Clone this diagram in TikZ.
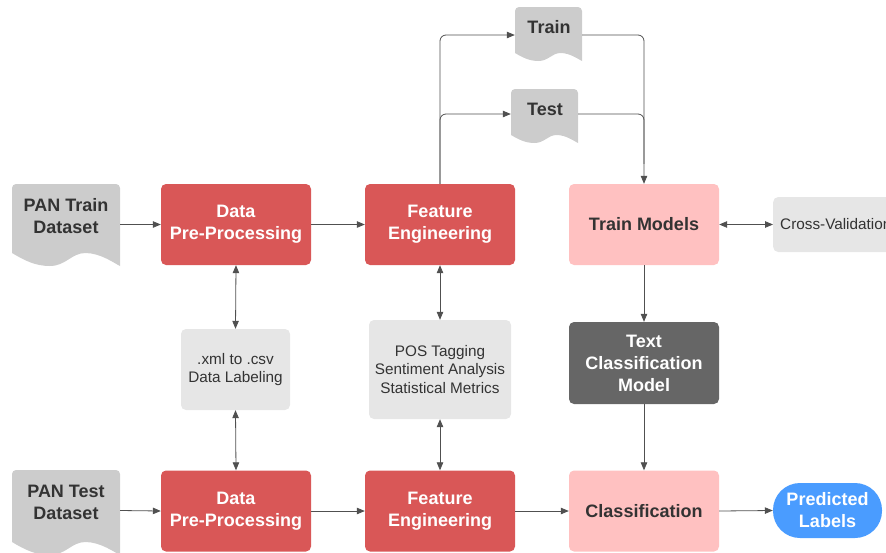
\documentclass[tikz,border=0pt]{standalone}
\usepackage{fontspec}
\setmainfont{Liberation Sans}
\usetikzlibrary{arrows.meta}
\definecolor{redbox}{HTML}{D95757}
\definecolor{pinkbox}{HTML}{FFC1C1}
\definecolor{docgray}{HTML}{CCCCCC}
\definecolor{lightbox}{HTML}{E6E6E6}
\definecolor{darkbox}{HTML}{666666}
\definecolor{bluebox}{HTML}{4A9CFF}
\definecolor{txt}{HTML}{333333}
\definecolor{linec}{HTML}{505050}
\newcommand{\docshape}[5]{%
  \pgfmathsetmacro\dw{#3-#1}%
  \fill[docgray] (#1,{#4-#5}) [rounded corners=4pt] -- (#1,#2) -- (#3,#2) [sharp corners] -- (#3,#4)
    .. controls ({#3-0.05*\dw},{#4-0.2*#5}) and ({#1+0.82*\dw},{#4-#5}) .. ({#1+0.68*\dw},{#4-#5})
    .. controls ({#1+0.55*\dw},{#4-#5}) and ({#1+0.5*\dw},#4) .. ({#1+0.35*\dw},#4)
    .. controls ({#1+0.22*\dw},#4) and ({#1+0.12*\dw},{#4-0.4*#5}) .. (#1,{#4-#5}) -- cycle;}
\begin{document}
\begin{tikzpicture}[x=1pt,y=-1pt,
  box/.style={rectangle, rounded corners=5pt, minimum width=150, minimum height=81, inner sep=0, align=center, font=\bfseries\fontsize{18}{22}\selectfont},
  redb/.style={box, fill=redbox, text=white},
  pinkb/.style={box, fill=pinkbox, text=txt},
  darkb/.style={box, fill=darkbox, text=white},
  grayb/.style={rectangle, rounded corners=5pt, fill=lightbox, text=txt, inner sep=0, align=center, font=\fontsize{15.3}{18.5}\selectfont},
  frame/.style={rectangle, inner sep=0},
  doctext/.style={align=center, text=txt, inner sep=0, font=\bfseries\fontsize{18}{22}\selectfont},
  arr/.style={draw=linec, line width=0.8pt, -{Triangle[length=8pt,width=6.5pt]}},
  darr/.style={draw=linec, line width=0.8pt, {Triangle[length=8pt,width=6.5pt]}-{Triangle[length=8pt,width=6.5pt]}},
  line/.style={draw=linec, line width=0.8pt}
]
\useasboundingbox (0,0) rectangle (886,552);
\clip (0,0) rectangle (886,552);

% document shapes
\docshape{12}{184}{120}{266}{13}
\docshape{12}{470}{120}{555}{13}
\docshape{515}{7}{582}{61}{8}
\docshape{511}{89}{578}{143}{8}

\node[frame, minimum width=108, minimum height=81] (ptrain) at (66,224.5) {};
\node[doctext] (ptraint) at (66,216) {PAN Train\\Dataset};
\node[frame, minimum width=108, minimum height=81] (ptest) at (66,510.5) {};
\node[doctext] (ptestt) at (66,502) {PAN Test\\Dataset};
\node[frame, minimum width=67, minimum height=56] (train) at (548.5,35) {};
\node[doctext] (traint) at (549,27) {Train};
\node[frame, minimum width=67, minimum height=56] (test) at (544.5,114) {};
\node[doctext] (testt) at (545,109) {Test};

% top row
\node[redb] (dpp1) at (236,224.5) {Data\\Pre-Processing};
\node[redb] (fe1) at (440,224.5) {Feature\\Engineering};
\node[pinkb] (tm) at (644,224.5) {Train Models};
\node[grayb, anchor=west, minimum height=55, inner xsep=7] (cv) at (773,224.5) {Cross-Validation};

% middle row
\node[grayb, minimum width=109, minimum height=81] (xml) at (235.5,369.5) {.xml to .csv\\Data Labeling};
\node[grayb, minimum width=142, minimum height=99] (pos) at (440,369.5) {POS Tagging\\Sentiment Analysis\\Statistical Metrics};
\node[darkb, minimum height=82] (tcm) at (644,363) {Text\\Classification\\Model};

% bottom row
\node[redb] (dpp2) at (236,511) {Data\\Pre-Processing};
\node[redb] (fe2) at (440,511) {Feature\\Engineering};
\node[pinkb] (cls) at (644,511) {Classification};
\node[box, fill=bluebox, text=white, minimum width=109, minimum height=55, rounded corners=27pt] (pred) at (827.5,510.5) {Predicted\\Labels};

% connectors
\draw[arr] (ptrain.east) -- (dpp1.west);
\draw[arr] (dpp1.east) -- (fe1.west);
\draw[arr, rounded corners=6pt] (fe1.north) |- (train.west);
\draw[arr, rounded corners=6pt] (fe1.north) |- (test.west);
\draw[arr, rounded corners=6pt] (train.east) -| (tm.north);
\draw[line, rounded corners=6pt] (test.east) -| ([yshift=20]tm.north);
\draw[darr] (tm.east) -- (cv.west);
\draw[darr] (dpp1.south) -- (xml.north);
\draw[darr] (xml.south) -- (dpp2.north);
\draw[darr] (fe1.south) -- (pos.north);
\draw[darr] (pos.south) -- (fe2.north);
\draw[arr] (tm.south) -- (tcm.north);
\draw[arr] (tcm.south) -- (cls.north);
\draw[arr] (ptest.east) -- (dpp2.west);
\draw[arr] (dpp2.east) -- (fe2.west);
\draw[arr] (fe2.east) -- (cls.west);
\draw[arr] (cls.east) -- (pred.west);
\end{tikzpicture}
\end{document}
